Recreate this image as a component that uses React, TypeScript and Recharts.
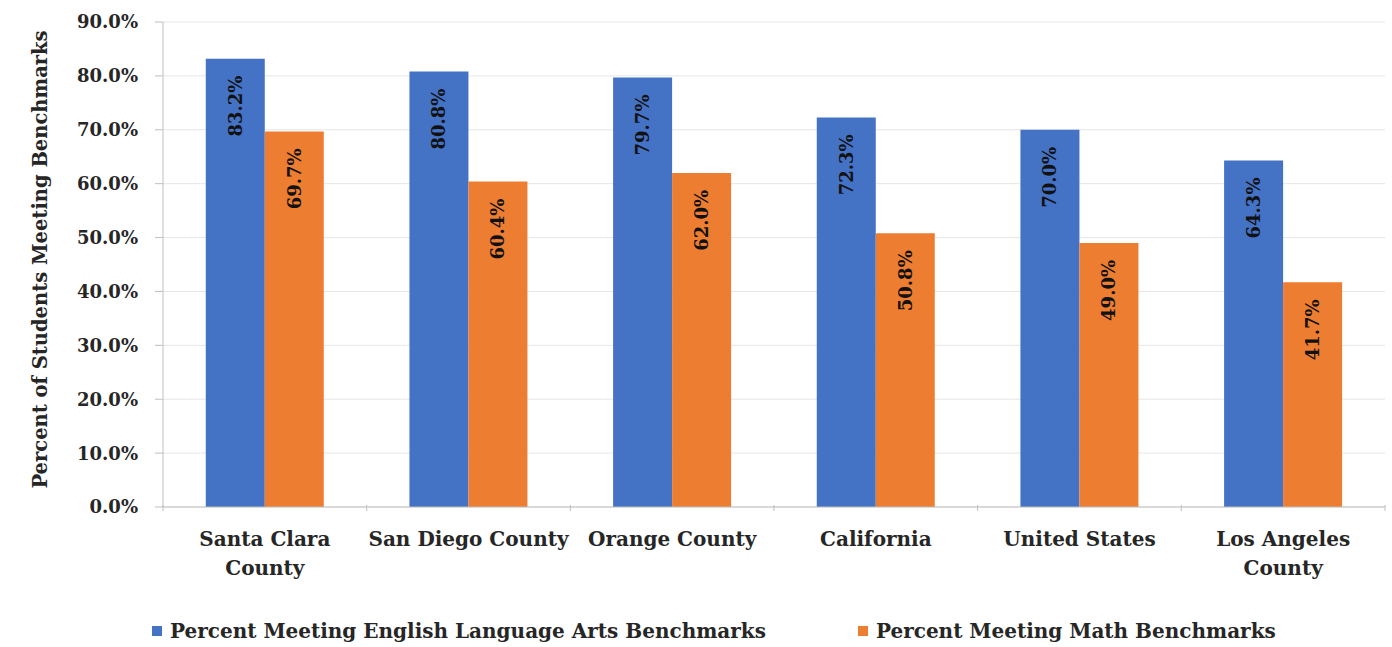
import { BarChart, Bar, XAxis, YAxis, CartesianGrid, Legend, LabelList } from "recharts";

const categories = ["Santa Clara\nCounty", "San Diego County", "Orange County", "California", "United States", "Los Angeles\nCounty"];
const elaValues = [83.2, 80.8, 79.7, 72.3, 70.0, 64.3];
const mathValues = [69.7, 60.4, 62.0, 50.8, 49.0, 41.7];
const yTicks = [0, 10, 20, 30, 40, 50, 60, 70, 80, 90];
const seriesNames = ["Percent Meeting English Language Arts Benchmarks", "Percent Meeting Math Benchmarks"];
const yAxisTitle = "Percent of Students Meeting Benchmarks";

const BLUE = "#4472C4";
const ORANGE = "#ED7D31";
const TEXT = "#262626";
const SERIF = "'DejaVu Serif', serif";

const data = categories.map((c, i) => ({ name: c, ela: elaValues[i], math: mathValues[i] }));

function CategoryTick(props: any) {
  const { x, y, payload, index } = props;
  const half = payload.offset || 101.8;
  const lines = String(payload.value).split("\n");
  return (
    <g>
      <line x1={x - half} x2={x - half} y1={y - 10} y2={y - 4} stroke="#bfbfbf" />
      {index === categories.length - 1 && (
        <line x1={x + half} x2={x + half} y1={y - 10} y2={y - 4} stroke="#bfbfbf" />
      )}
      <text x={x} y={y + 31} textAnchor="middle" fill={TEXT} fontFamily={SERIF} fontWeight="bold" fontSize={20}>
        {lines.map((l, i) => (
          <tspan key={i} x={x} dy={i === 0 ? 0 : 29}>{l}</tspan>
        ))}
      </text>
    </g>
  );
}

function BarValue(props: any) {
  const { x, y, width, value } = props;
  const cx = Number(x) + Number(width) / 2;
  const ty = Number(y) + 17;
  return (
    <text
      x={cx}
      y={ty}
      transform={`rotate(-90 ${cx} ${ty})`}
      textAnchor="end"
      dominantBaseline="central"
      fill="#111"
      fontFamily={SERIF}
      fontWeight="bold"
      fontSize={18}
    >
      {Number(value).toFixed(1)}%
    </text>
  );
}

function AxisTitle(props: any) {
  const { viewBox } = props;
  const cx = 40;
  const cy = viewBox.y + viewBox.height / 2 - 5;
  return (
    <text
      x={cx}
      y={cy}
      transform={`rotate(-90 ${cx} ${cy})`}
      textAnchor="middle"
      dominantBaseline="central"
      fill={TEXT}
      fontFamily={SERIF}
      fontWeight="bold"
      fontSize={19.5}
    >
      {yAxisTitle}
    </text>
  );
}

function LegendBox() {
  const colors = [BLUE, ORANGE];
  return (
    <div style={{ display: "flex", alignItems: "center", paddingLeft: 152, paddingTop: 18, height: 32, gap: 92 }}>
      {seriesNames.map((n, i) => (
        <div key={n} style={{ display: "flex", alignItems: "center" }}>
          <span style={{ width: 10, height: 10, background: colors[i], marginRight: 8, display: "inline-block" }} />
          <span style={{ fontFamily: SERIF, fontWeight: "bold", fontSize: 20, color: TEXT }}>{n}</span>
        </div>
      ))}
    </div>
  );
}

export default function App() {
  return (
    <div style={{ position: "absolute", left: 0, top: 0, width: 1392, height: 647, background: "#fff" }}>
      <BarChart
        width={1392}
        height={647}
        data={data}
        margin={{ top: 22, right: 7, left: 20, bottom: 0 }}
        barGap={0}
        barCategoryGap="21%"
      >
        <CartesianGrid vertical={false} stroke="#e6e6e6" />
        <XAxis
          dataKey="name"
          interval={0}
          height={90}
          tickLine={false}
          axisLine={{ stroke: "#bfbfbf" }}
          tick={<CategoryTick />}
        />
        <YAxis
          width={143}
          domain={[0, 90]}
          ticks={yTicks}
          tickFormatter={(v: number) => v.toFixed(1) + "%"}
          tickSize={8}
          tickMargin={17}
          tickLine={{ stroke: "#bfbfbf" }}
          axisLine={{ stroke: "#bfbfbf" }}
          tick={{ fill: TEXT, fontFamily: SERIF, fontWeight: "bold", fontSize: 18 }}
          label={<AxisTitle />}
        />
        <Legend verticalAlign="bottom" height={50} content={<LegendBox />} wrapperStyle={{ left: 0, width: 1392 }} />
        <Bar dataKey="ela" name={seriesNames[0]} fill={BLUE} isAnimationActive={false}>
          <LabelList dataKey="ela" content={<BarValue />} />
        </Bar>
        <Bar dataKey="math" name={seriesNames[1]} fill={ORANGE} isAnimationActive={false}>
          <LabelList dataKey="math" content={<BarValue />} />
        </Bar>
      </BarChart>
    </div>
  );
}
